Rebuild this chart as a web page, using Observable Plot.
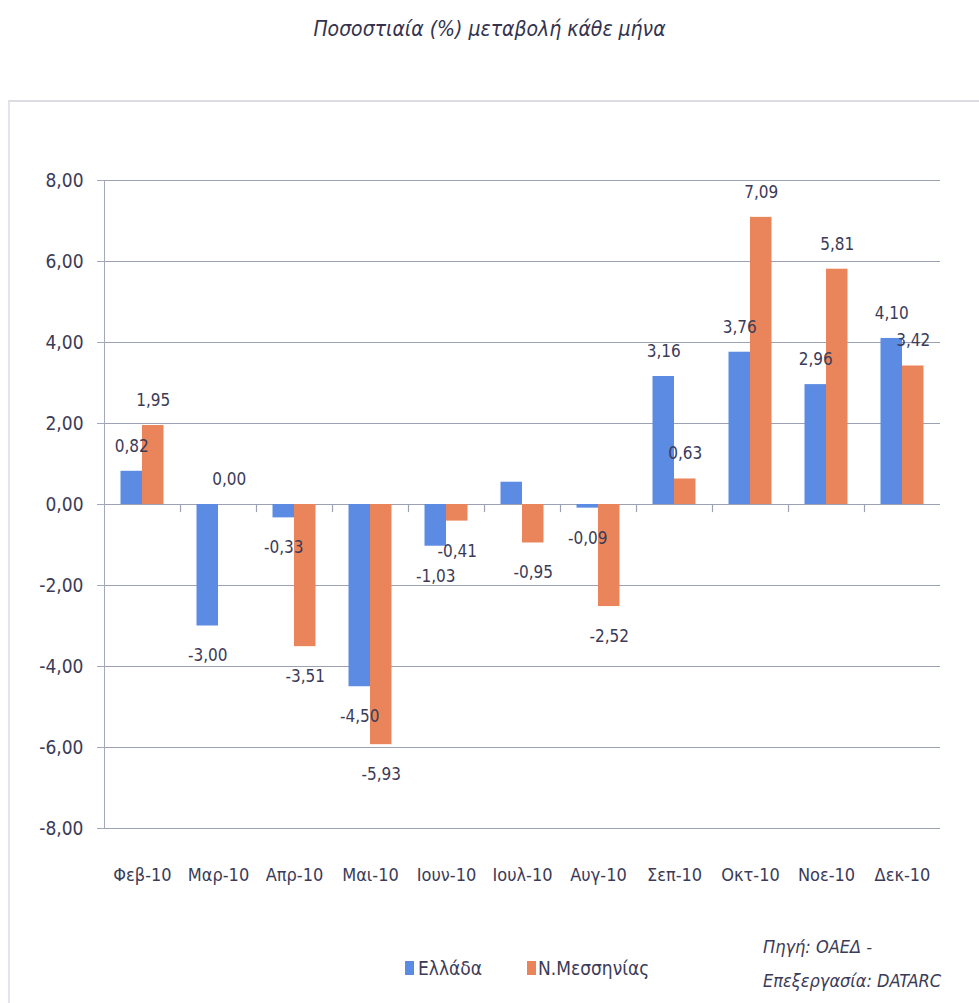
<!DOCTYPE html>
<html>
<head>
<meta charset="utf-8">
<script src="https://cdn.jsdelivr.net/npm/d3@7"></script>
<script src="https://cdn.jsdelivr.net/npm/@observablehq/plot@0.6"></script>
<style>
  html, body { margin: 0; padding: 0; background: #ffffff; }
  #wrap { position: relative; width: 979px; height: 1003px; overflow: hidden;
          font-family: "DejaVu Sans Condensed", "DejaVu Sans", sans-serif; font-stretch: condensed; color: #3b3b58; }
  #title { position: absolute; left: 0; top: 17px; width: 979px; text-align: center;
           font-size: 21px; font-style: italic; color: #33334f; }
  #frame { position: absolute; left: 8px; top: 100px; width: 975px; height: 910px;
           border-top: 2px solid #dcdde2; border-left: 2px solid #e4e5ea; }
  #chart { position: absolute; left: 0; top: 101px; }
  .leg { position: absolute; font-size: 19px; color: #3b3b58; white-space: nowrap; }
  .sw { position: absolute; width: 9px; height: 14px; }
  #src { position: absolute; left: 763px; top: 930px; font-size: 18px; font-style: italic; line-height: 34px; color: #3b3b58; }
</style>
</head>
<body>
<div id="wrap">
  <div id="title"></div>
  <div id="frame"></div>
  <div id="chart"></div>
  <div id="legend"></div>
  <div id="src"></div>
</div>
<script>
const titleText = "Ποσοστιαία (%) μεταβολή κάθε μήνα";
const months = ["Φεβ-10","Μαρ-10","Απρ-10","Μαι-10","Ιουν-10","Ιουλ-10","Αυγ-10","Σεπ-10","Οκτ-10","Νοε-10","Δεκ-10"];
const seriesNames = ["Ελλάδα", "Ν.Μεσσηνίας"];
const greece   = [0.82, -3.00, -0.33, -4.50, -1.03, 0.55, -0.09, 3.16, 3.76, 2.96, 4.10];
const messinia = [1.95,  0.00, -3.51, -5.93, -0.41, -0.95, -2.52, 0.63, 7.09, 5.81, 3.42];
const greeceShowLabel = [true, true, true, true, true, false, true, true, true, true, true];
const yTicks = [-8, -6, -4, -2, 0, 2, 4, 6, 8];
const sourceLines = ["Πηγή: ΟΑΕΔ -", "Επεξεργασία: DATARC"];

const colors = ["#5b8be3", "#ea845a"];
const fmt = v => v.toFixed(2).replace(".", ",");

const rowsG = months.map((m, i) => ({month: m, value: greece[i], show: greeceShowLabel[i]}));
const rowsM = months.map((m, i) => ({month: m, value: messinia[i], show: true}));

document.getElementById("title").textContent = titleText;

const W = 979, mL = 104, mR = 39;
const band = (W - mL - mR) / months.length;   // category width
const barW = 21.5;
const outer = (band - 2 * barW) / 2;
const shift = band / 2 - outer - barW / 2;     // bar centre offset from category centre

const textFont = {fontFamily: "DejaVu Sans Condensed, DejaVu Sans, sans-serif", fontSize: 17, fill: "#3b3b58"};

const labelMarks = (rows, dx) => [
  Plot.text(rows.filter(d => d.show && d.value >= 0), {
    x: "month", y: "value", text: d => fmt(d.value), dx, dy: -25,
    lineAnchor: "middle", textAnchor: "middle", ...textFont
  }),
  Plot.text(rows.filter(d => d.show && d.value < 0), {
    x: "month", y: "value", text: d => fmt(d.value), dx, dy: 30,
    lineAnchor: "middle", textAnchor: "middle", ...textFont
  })
];

const chart = Plot.plot({
  width: W,
  height: 800,
  marginLeft: mL,
  marginRight: mR,
  marginTop: 79,
  marginBottom: 73,
  style: {fontFamily: "DejaVu Sans Condensed, DejaVu Sans, sans-serif", fontStretch: "condensed", color: "#3b3b58", background: "transparent"},
  x: {type: "band", domain: months, padding: 0, label: null},
  y: {type: "linear", domain: [-8, 8], label: null},
  marks: [
    Plot.gridY(yTicks, {stroke: "#9ca2b4", strokeOpacity: 1, strokeWidth: 1.2}),
    Plot.ruleX(months.slice(1), {x: d => d, y1: 0, y2: -0.2, dx: -band / 2, stroke: "#9ca2b4", strokeWidth: 1.2}),
    Plot.frame({anchor: "left", stroke: "#a4a9b9"}),
    Plot.barY(rowsG, {x: "month", y: "value", fill: colors[0], insetLeft: outer, insetRight: band - outer - barW}),
    Plot.barY(rowsM, {x: "month", y: "value", fill: colors[1], insetLeft: outer + barW, insetRight: outer}),
    ...labelMarks(rowsG, -shift),
    ...labelMarks(rowsM, shift),
    Plot.axisY(yTicks, {tickSize: 7, tickPadding: 14, tickFormat: fmt, stroke: "#a4a9b9", color: "#3b3b58", fontSize: 19, label: null}),
    Plot.axisX({tickSize: 0, tickPadding: 40, fontSize: 18, color: "#3b3b58", label: null})
  ]
});
document.getElementById("chart").appendChild(chart);

// legend
const legend = document.getElementById("legend");
const legPos = [{sw: 405, tx: 418}, {sw: 527, tx: 538}];
seriesNames.forEach((name, i) => {
  const sw = document.createElement("div");
  sw.className = "sw";
  sw.style.left = legPos[i].sw + "px";
  sw.style.top = "961px";
  sw.style.background = colors[i];
  legend.appendChild(sw);
  const t = document.createElement("div");
  t.className = "leg";
  t.style.left = legPos[i].tx + "px";
  t.style.top = "957px";
  t.textContent = name;
  legend.appendChild(t);
});
document.getElementById("src").innerHTML = sourceLines.join("<br>");
</script>
</body>
</html>
